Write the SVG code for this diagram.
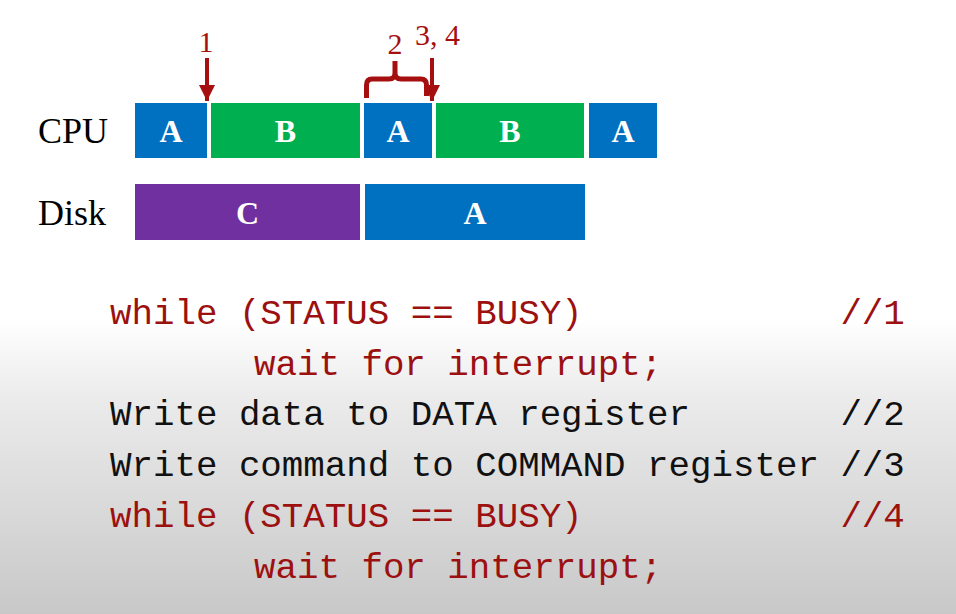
<svg xmlns="http://www.w3.org/2000/svg" width="956" height="614" viewBox="0 0 956 614">
<defs>
<linearGradient id="bg" x1="0" y1="0" x2="0" y2="1">
<stop offset="0" stop-color="#ffffff"/>
<stop offset="0.52" stop-color="#ffffff"/>
<stop offset="0.65" stop-color="#ebebeb"/>
<stop offset="1" stop-color="#c8c8c8"/>
</linearGradient>
<marker id="arr" viewBox="0 0 10 10" refX="10" refY="5" markerWidth="4" markerHeight="4" markerUnits="strokeWidth" orient="auto">
<path d="M0,0 L10,5 L0,10 z" fill="#a50f0f"/>
</marker>
</defs>
<style>
.lbl{font-family:"Liberation Serif",serif;font-size:36px;fill:#000}
.bar{font-family:"Liberation Serif",serif;font-size:32px;font-weight:bold;fill:#fff;text-anchor:middle}
.num{font-family:"Liberation Serif",serif;font-size:30px;fill:#a50f0f}
.code{font-family:"Liberation Mono","Courier New",monospace;font-size:35.8px;white-space:pre}
.red{fill:#9c1010}
.blk{fill:#111}
.a{fill:#0070c0}.b{fill:#00b050}.c{fill:#7030a0}
</style>
<rect width="956" height="614" fill="url(#bg)"/>
<text class="lbl" x="38" y="143">CPU</text>
<text class="lbl" x="38" y="225">Disk</text>
<g id="cpu-a1"><rect class="a" x="135" y="103" width="72" height="55"/><text class="bar" x="171" y="142">A</text></g>
<g id="cpu-b1"><rect class="b" x="211" y="103" width="149" height="55"/><text class="bar" x="285.5" y="142">B</text></g>
<g id="cpu-a2"><rect class="a" x="364" y="103" width="68" height="55"/><text class="bar" x="398" y="142">A</text></g>
<g id="cpu-b2"><rect class="b" x="436" y="103" width="148" height="55"/><text class="bar" x="510" y="142">B</text></g>
<g id="cpu-a3"><rect class="a" x="589" y="103" width="68" height="55"/><text class="bar" x="623" y="142">A</text></g>
<g id="disk-c"><rect class="c" x="135" y="184" width="225" height="56"/><text class="bar" x="247.5" y="224">C</text></g>
<g id="disk-a"><rect class="a" x="365" y="184" width="220" height="56"/><text class="bar" x="475" y="224">A</text></g>
<g id="connectors" stroke="#a50f0f" fill="none">
<line x1="207" y1="58" x2="207" y2="101" stroke-width="4" marker-end="url(#arr)"/>
<line x1="432" y1="58" x2="432" y2="101" stroke-width="4" marker-end="url(#arr)"/>
<path d="M366.5,98 L366.5,85 Q366.5,79 372,79 L389,79 Q395,79 395,73 L395,61 M395,73 Q395,79 401,79 L421,79 Q426.5,79 426.5,85 L426.5,96" stroke-width="5"/>
</g>
<text class="num" x="206" y="52" text-anchor="middle">1</text>
<text class="num" x="395" y="54" text-anchor="middle">2</text>
<text class="num" x="415" y="45">3, 4</text>
<g id="code">
<text class="code red" x="110" y="324">while (STATUS == BUSY)            //1</text>
<text class="code red" x="254" y="375">wait for interrupt;</text>
<text class="code blk" x="110" y="425">Write data to DATA register       //2</text>
<text class="code blk" x="110" y="476">Write command to COMMAND register //3</text>
<text class="code red" x="110" y="527">while (STATUS == BUSY)            //4</text>
<text class="code red" x="254" y="578">wait for interrupt;</text>
</g>
</svg>
